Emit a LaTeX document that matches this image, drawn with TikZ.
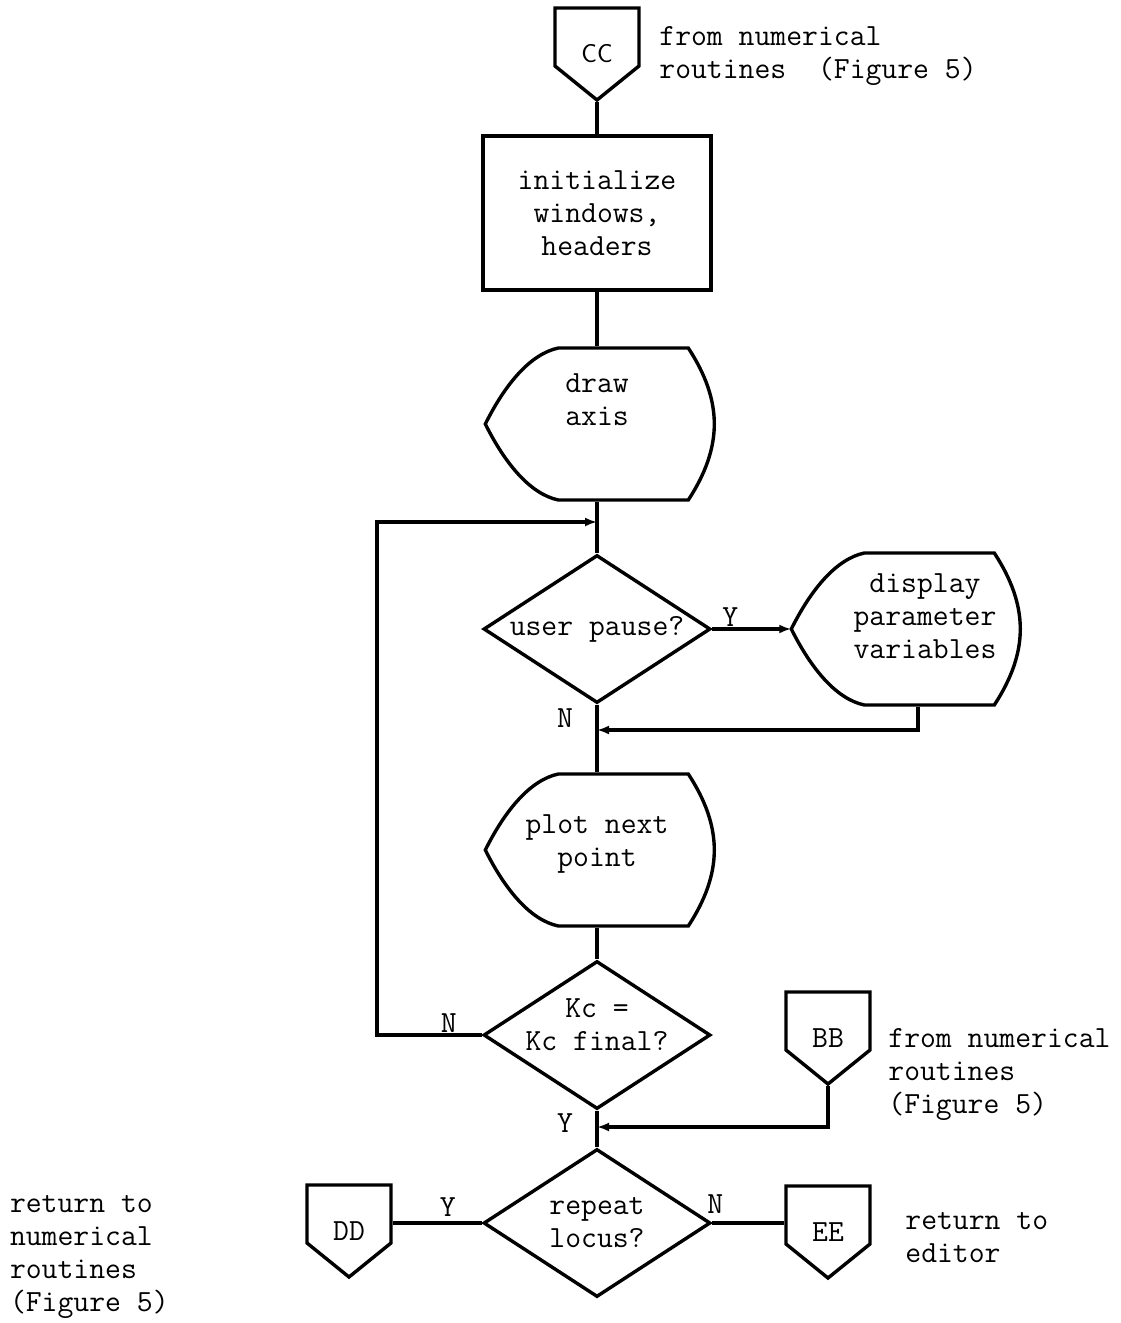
\documentclass[tikz,border=0pt]{standalone}
\usepackage{fontspec}
\usetikzlibrary{shapes.geometric,calc,arrows.meta}

% outline of an off-page connector (from its centre) and of a display symbol (from its point)
\newcommand{\offpageline}[1]{\draw[shift={(#1.center)}] (-42,-46) -- (42,-46) -- (42,12) -- (0,46) -- (-42,12) -- cycle;}
\newcommand{\displine}[1]{\draw[shift={(#1.west)}] (0,0) .. controls (20,-40) and (45,-70) .. (73,-76) -- (203,-76)
  .. controls (220,-50) and (229,-25) .. (229,0) .. controls (229,25) and (220,50) .. (203,76) -- (73,76)
  .. controls (45,70) and (20,40) .. (0,0) -- cycle;}

\tikzset{
  every node/.style={font=\ttfamily\fontsize{30.8}{33}\selectfont},
  proc/.style={draw, rectangle, minimum width=228, minimum height=154, align=center, inner sep=0},
  dispnode/.style={minimum width=220, minimum height=152, align=center, inner sep=0},
  test/.style={draw, diamond, aspect=1.53, minimum width=227, minimum height=148, inner sep=-3pt, align=center},
  offpage/.style={minimum width=84, minimum height=92, inner sep=0},
  note/.style={align=left, anchor=west, inner sep=0},
  lbl/.style={inner sep=0},
  arr/.style={-{Latex[length=12,width=9]}}
}

\begin{document}
\begin{tikzpicture}[x=1pt, y=-1pt, line width=3.4pt]
	\useasboundingbox (0,0) rectangle (1120,1323);
	% main column
	\node[offpage] (cc) at (597,54) {\sffamily\fontsize{26}{28}\selectfont CC};
	\offpageline{cc}
	\node[note] (ccnote) at ($(cc.east)+(17,2)$) {from numerical\\routines\ \ (Figure 5)};
	\node[proc] (init) at (597,213) {initialize\\windows,\\headers};
	\node[dispnode, text depth=48] (axis) at (597,424) {draw\\axis};
	\displine{axis}
	\coordinate (jA) at (597,522);
	\node[test] (pause) at (597,629) {user pause?};
	\node[dispnode, minimum width=264, text depth=26] (disp) at (925,629) {display\\parameter\\variables};
	\displine{disp}
	\coordinate (jB) at (597,730);
	\node[dispnode, text depth=18] (plot) at (597,850) {plot next\\point};
	\displine{plot}
	\node[test, text height=41, text depth=11] (kc) at (597,1035) {Kc =\\Kc final?};
	\node[offpage] (bb) at (828,1038) {BB};
	\offpageline{bb}
	\node[note] (bbnote) at ($(bb.east)+(15,37)$) {from numerical\\routines\\(Figure 5)};
	\coordinate (jC) at (597,1127);
	\node[test] (rep) at (597,1223) {repeat\\locus?};
	\node[offpage] (dd) at (349,1231) {DD};
	\offpageline{dd}
	\node[note] (ddnote) at ($(dd.west)+(-297,26)$) {return to\\numerical\\routines\\(Figure 5)};
	\node[offpage] (ee) at (828,1232) {EE};
	\offpageline{ee}
	\node[note] (eenote) at ($(ee.east)+(32,6)$) {return to\\editor};
	% flow lines
	\draw (cc.south) -- (init.north);
	\draw (init.south) -- (axis.north);
	\draw (axis.south) -- (pause.north);
	\draw[arr] (kc.west) -- ++(-105,0) |- (jA);
	\draw[arr] (pause.east) -- (disp.west);
	\draw[arr] ($(disp.south)+(-7,0)$) |- (jB);
	\draw (pause.south) -- (plot.north);
	\draw (plot.south) -- (kc.north);
	\draw (kc.south) -- (rep.north);
	\draw[arr] (bb.south) |- (jC);
	\draw (rep.west) -- (rep.west -| dd.east);
	\draw (rep.east) -- (rep.east -| ee.west);
	% branch labels
	\node[lbl] (yA) at ($(pause.east)+(18,-12)$) {Y};
	\node[lbl] (nA) at ($(jB)+(-32,-12)$) {N};
	\node[lbl] (nB) at ($(kc.west)+(-33,-12)$) {N};
	\node[lbl] (yB) at ($(jC)+(-32,-4)$) {Y};
	\node[lbl] (yC) at ($(rep.west)+(-34,-16)$) {Y};
	\node[lbl] (nC) at ($(rep.east)+(3,-19)$) {N};
\end{tikzpicture}
\end{document}
